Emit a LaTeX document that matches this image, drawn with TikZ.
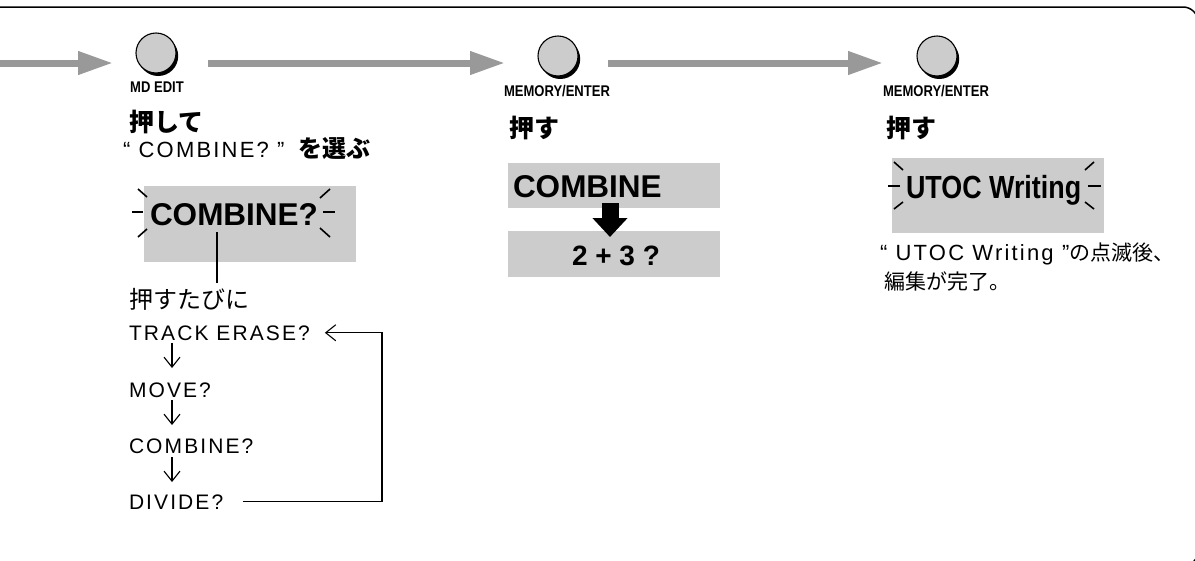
\documentclass[tikz,border=0pt]{standalone}
\usepackage{fontspec}
\setmainfont{Liberation Sans}
\newfontfamily\spaced{Liberation Sans}[LetterSpace=10]
\newfontfamily\cond{Liberation Sans}[FakeStretch=0.84]
\newfontfamily\jp{Noto Sans CJK JP}
\usetikzlibrary{arrows.meta,calc,shadows}
\definecolor{boxgray}{HTML}{CCCCCC}
\definecolor{arrgray}{HTML}{999999}
\begin{document}
\begin{tikzpicture}[x=1pt,y=-1pt,
  every node/.style={inner sep=0pt, outer sep=0pt},
  button/.style={circle, minimum size=40pt, fill=boxgray, draw=black, line width=1.1pt,
    drop shadow={shadow xshift=2.2pt, shadow yshift=-3pt, opacity=1, fill=black}},
  btnlabel/.style={font=\cond\bfseries\fontsize{15.5}{17}\selectfont, anchor=base},
  push/.style={font=\jp\bfseries\fontsize{25}{28}\selectfont, anchor=base west},
  lcd/.style={fill=boxgray, anchor=north west},
  lcdtext/.style={font=\bfseries\fontsize{31.5}{36}\selectfont, anchor=base west},
  menu/.style={font=\spaced\fontsize{21}{25}\selectfont, anchor=base west},
  flowarr/.style={line width=7pt, draw=arrgray, -{Triangle[length=35pt,width=22pt]}},
  thinarr/.style={line width=1.1pt, -{Straight Barb[length=10pt,width=16pt]}},
  flash/.style={line width=1.6pt},
]
\useasboundingbox (0,0) rectangle (1195,560);
% frame
\begin{scope}
  \clip (0,0) rectangle (1195,560);
  \draw[line width=1.5pt, rounded corners=15pt] (-30,7) rectangle (1198,566);
\end{scope}

% buttons
\node[button] (b1) at (156,53) {};
\node[button] (b2) at (558,56) {};
\node[button] (b3) at (937,56) {};
\node[btnlabel] (l1) at (157,92) {MD EDIT};
\node[btnlabel] (l2) at (557,96) {MEMORY/ENTER};
\node[btnlabel] (l3) at (936,96) {MEMORY/ENTER};

% flow arrows
\coordinate (in0) at (-2,63);
\draw[flowarr] (in0) -- ($(b1.west)+(-23,10)$);
\draw[flowarr] ($(b1.east)+(32,10)$) -- ($(b2.west)+(-33,7)$);
\draw[flowarr] ($(b2.east)+(30,7)$) -- ($(b3.west)+(-34,7)$);

% column 1
\node[push] (p1) at (129,131) {押して};
\node[anchor=base west] (sel) at (123,157) {{\spaced\fontsize{22}{26}\selectfont “ COMBINE? ”}\hspace{14pt}{\jp\bfseries\fontsize{24}{28}\selectfont を選ぶ}};
\node[lcd, minimum width=212pt, minimum height=76pt] (box1) at (144,186) {};
\node[lcdtext] (cb1) at (150,225) {COMBINE?};
\draw[flash] (132,212) -- (143,212);
\draw[flash] (138,189) -- (147,197);
\draw[flash] (138,237) -- (147,229);
\draw[flash] (323,212) -- (335,212);
\draw[flash] (320,198) -- (330,189);
\draw[flash] (320,228) -- (330,237);
\coordinate (stemtop) at (217,232);
\coordinate (stembot) at (217,283);
\draw[line width=1.7pt] (stemtop) -- (stembot);
\node[font=\jp\fontsize{24}{28}\selectfont, anchor=base west] (each) at (129,308) {押すたびに};
\node[menu] (tr) at (129,340) {TRACK ERASE?};
\node[menu] (mv) at (129,397) {MOVE?};
\node[menu] (cm) at (129,453) {COMBINE?};
\node[menu] (dv) at (129,509) {DIVIDE?};
\draw[thinarr] ($(tr.base west)+(43,3)$) -- ($(mv.base west)+(43,-29)$);
\draw[thinarr] ($(mv.base west)+(43,3)$) -- ($(cm.base west)+(43,-28)$);
\draw[thinarr] ($(cm.base west)+(43,4)$) -- ($(dv.base west)+(43,-27)$);
\coordinate (loopx) at (382,0);
\draw[thinarr] ($(dv.east)+(20,0)$) -- (dv.east -| loopx) -- (tr.east -| loopx) -- ($(tr.east)+(15,0)$);

% column 2
\node[push] (p2) at (509,137) {押す};
\node[lcd, minimum width=212pt, minimum height=45pt] (cbx) at (508,163) {};
\node[lcdtext] (cbt) at (513,197) {COMBINE};
\node[lcd, minimum width=212pt, minimum height=46pt] (sbx) at (508,231) {};
\node[font=\bfseries\fontsize{28}{32}\selectfont, anchor=base] (sbt) at (616,265) {2 + 3 ?};
\draw[line width=17pt, -{Triangle[length=19pt,width=34pt]}] ($(cbx.south)+(-4,-5)$) -- ($(sbx.north)+(-4,6)$);

% column 3
\node[push] (p3) at (886,137) {押す};
\node[lcd, minimum width=212pt, minimum height=75pt] (ubx) at (892,158) {};
\node[font=\cond\bfseries\fontsize{32}{36}\selectfont, anchor=base west] (ut) at (906,198) {UTOC Writing};
\draw[flash] (888,186) -- (900,186);
\draw[flash] (894,162) -- (903,170);
\draw[flash] (894,209) -- (903,202);
\draw[flash] (1088,186) -- (1101,186);
\draw[flash] (1085,170) -- (1094,162);
\draw[flash] (1085,202) -- (1094,209);
\node[anchor=base west] (n1) at (880,260) {{\spaced\fontsize{22}{26}\selectfont “ UTOC Writing ”}{\jp\fontsize{21}{26}\selectfont の点滅後、}};
\node[font=\jp\fontsize{21}{26}\selectfont, anchor=base west] (n2) at (884,289) {編集が完了。};
\end{tikzpicture}
\end{document}
